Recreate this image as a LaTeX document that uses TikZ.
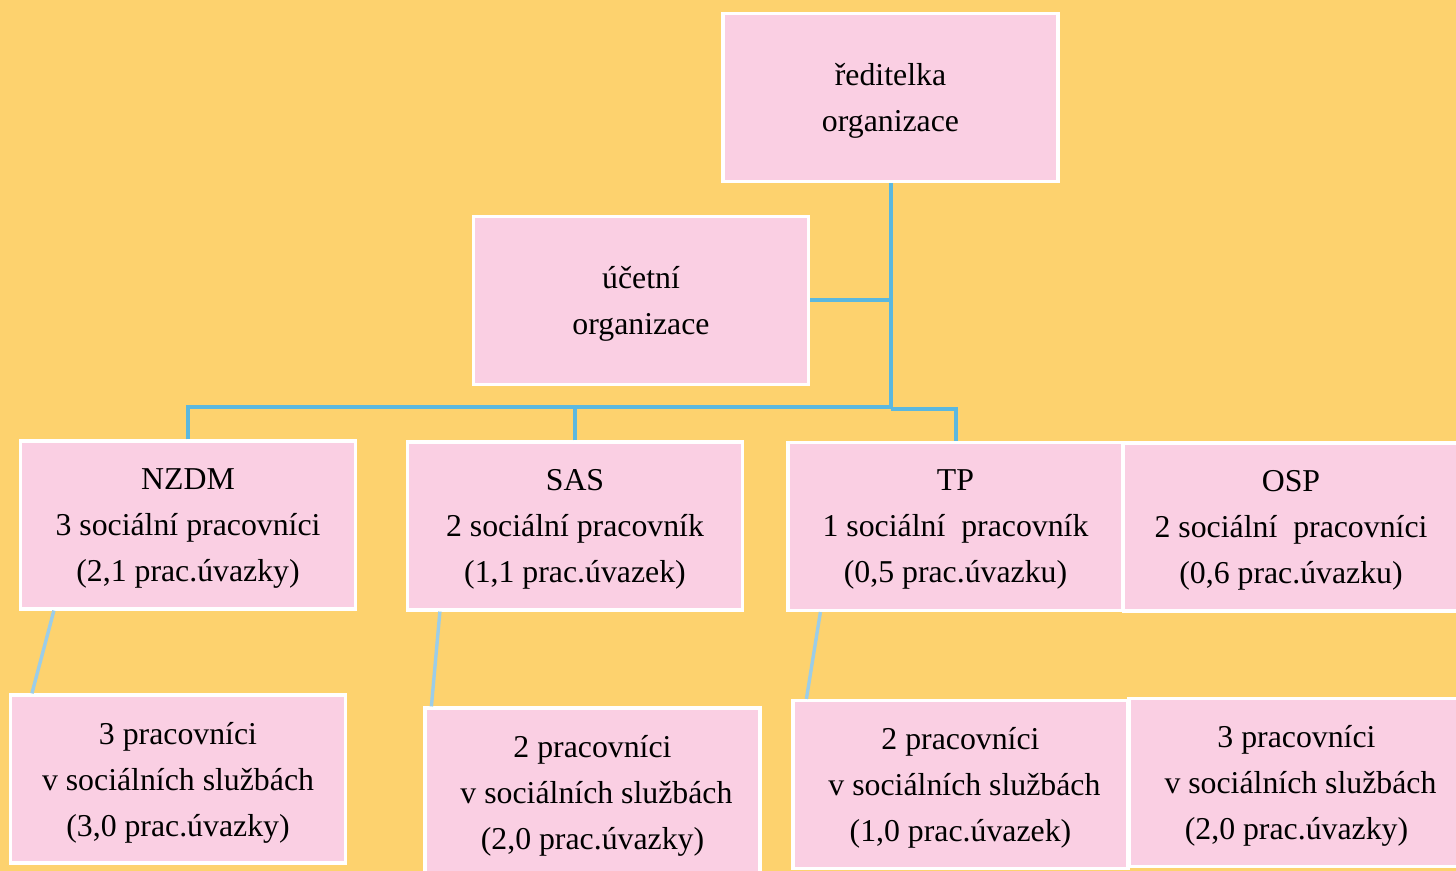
\documentclass[tikz,border=0pt]{standalone}
\usepackage{fontspec}
\setmainfont{Liberation Serif}
\usetikzlibrary{positioning,calc}
\definecolor{tlo}{HTML}{FDD26E}
\definecolor{ruz}{HTML}{FACFE3}
\definecolor{modra}{HTML}{5BB8DF}
\definecolor{svmodra}{HTML}{9BCDE8}
\tikzset{
	box/.style={draw=white, line width=1.6pt, fill=ruz, minimum width=167.5pt, minimum height=84pt, inner sep=0pt, align=center, text depth=0pt, font=\fontsize{15.9}{23}\selectfont},
	link/.style={draw=modra, line width=2pt},
	sublink/.style={draw=svmodra, line width=1.7pt}
}
\begin{document}
\begin{tikzpicture}[x=0.5pt,y=-0.5pt]
	\fill[tlo] (0,0) rectangle (1456,871);
	\useasboundingbox (0,0) rectangle (1456,871);

	% vedeni
	\node[box] (dir) at (890.5,97.5) {ředitelka\\organizace};
	\node[box] (acc) at (641,300.5) {účetní\\organizace};

	% spojnice
	\coordinate (bus) at (890.5,407);
	\coordinate (bus2) at (890.5,409);
	\draw[link] (dir.south) -- (bus);
	\draw[link] (acc.east) -- (acc.east -| dir.south);

	% sluzby
	\node[box] (nzdm) at (188,525) {NZDM\\3 sociální pracovníci\\(2,1 prac.úvazky)};
	\node[box] (sas) at (575,526) {SAS\\2 sociální pracovník\\(1,1 prac.úvazek)};
	\node[box] (tp) at (955.5,526.5) {TP\\1 sociální~~pracovník\\(0,5 prac.úvazku)};
	\node[box] (osp) at (1291,527) {OSP\\2 sociální~~pracovníci\\(0,6 prac.úvazku)};

	\draw[link] (nzdm.north) |- (bus);
	\draw[link] (sas.north) -- (sas.north |- bus);
	\draw[link] (tp.north) |- (bus2);

	% pracovnici
	\node[box] (b1) at (178,779) {3 pracovníci\\v sociálních službách\\(3,0 prac.úvazky)};
	\node[box] (b2) at (592.5,792) {2 pracovníci\\~v sociálních službách\\(2,0 prac.úvazky)};
	\node[box] (b3) at (960.5,784.5) {2 pracovníci\\~v sociálních službách\\(1,0 prac.úvazek)};
	\node[box] (b4) at (1296.5,782.5) {3 pracovníci\\~v sociálních službách\\(2,0 prac.úvazky)};

	\draw[sublink] ([xshift=17.5pt]nzdm.south west) -- ([xshift=11.5pt]b1.north west);
	\draw[sublink] ([xshift=17pt]sas.south west) -- ([xshift=4pt]b2.north west);
	\draw[sublink] ([xshift=17pt]tp.south west) -- ([xshift=7.5pt]b3.north west);
\end{tikzpicture}
\end{document}
